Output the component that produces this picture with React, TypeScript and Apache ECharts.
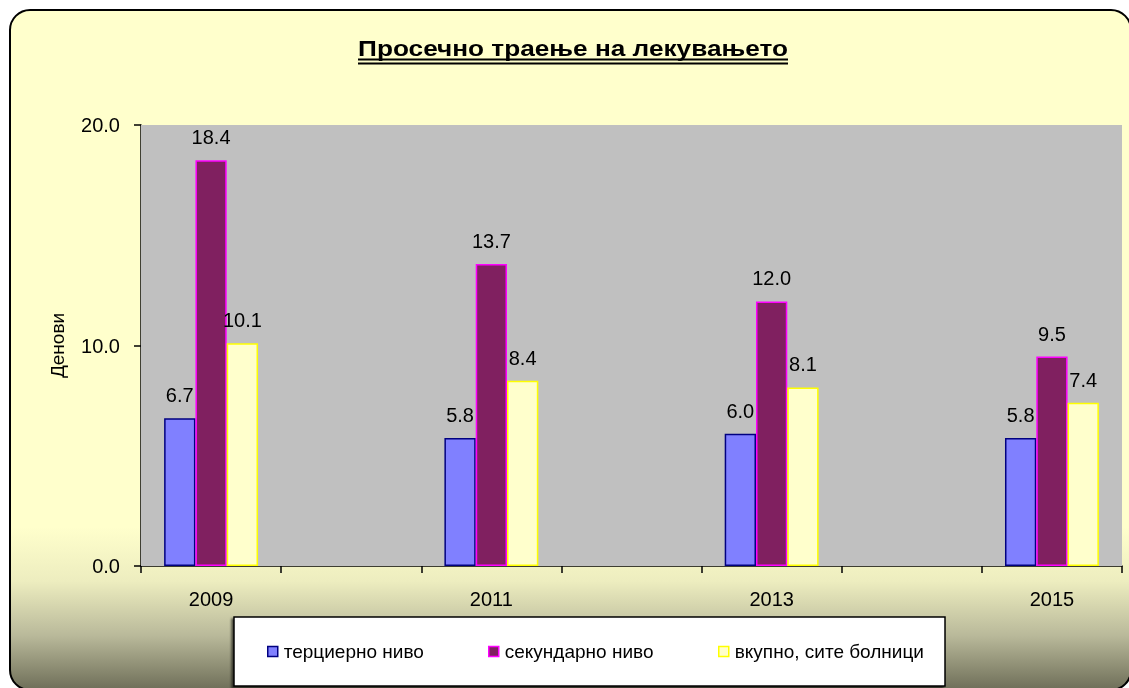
import React, { useEffect, useRef } from "react";
import * as echarts from "echarts";

const categories = ["2009", "2010", "2011", "2012", "2013", "2014", "2015"];
const tertiary = [6.7, null, 5.8, null, 6.0, null, 5.8];
const secondary = [18.4, null, 13.7, null, 12.0, null, 9.5];
const total = [10.1, null, 8.4, null, 8.1, null, 7.4];
const seriesNames = ["терциерно ниво", "секундарно ниво", "вкупно, сите болници"];
const titleText = "Просечно траење на лекувањето";
const yAxisName = "Денови";
const yMin = 0;
const yMax = 20;
const yInterval = 10;

const FONT = '"Liberation Sans", Arial, sans-serif';

const fills = ["#8080FF", "#802060", "#FFFFCC"];
const borders = ["#000080", "#FF00FF", "#FFFF00"];
const legendLefts = [267, 488, 718];

export default function App() {
  const ref = useRef<HTMLDivElement>(null);

  useEffect(() => {
    if (!ref.current) return;
    const chart = echarts.init(ref.current, null, { renderer: "svg" });

    const titleFontSize = 22;
    const canvas = document.createElement("canvas");
    const ctx = canvas.getContext("2d")!;
    ctx.font = `bold ${titleFontSize}px ${FONT}`;
    const tw = ctx.measureText(titleText).width || 360;
    const targetW = 430;
    const tcx = 573;

    const dataSets = [tertiary, secondary, total];

    const series: any[] = dataSets.map((d, i) => ({
      name: seriesNames[i],
      type: "bar",
      data: d,
      barGap: "0%",
      barCategoryGap: "33%",
      itemStyle: { color: fills[i], borderColor: borders[i], borderWidth: 1.5 },
      label: {
        show: true,
        position: "top",
        distance: 13,
        fontSize: 20,
        fontFamily: FONT,
        color: "#000",
        formatter: (p: any) => (p.value == null ? "" : Number(p.value).toFixed(1)),
      },
    }));

    chart.setOption({
      animation: false,
      graphic: [
        {
          type: "rect",
          z: -10,
          shape: { x: 10, y: 10, width: 1121, height: 680, r: 20 },
          style: {
            fill: new echarts.graphic.LinearGradient(0, 0, 0, 1, [
              { offset: 0, color: "#FFFFCC" },
              { offset: 0.76, color: "#FFFFCC" },
              { offset: 0.84, color: "#EDEDBF" },
              { offset: 0.92, color: "#B9B99A" },
              { offset: 1, color: "#6E6E58" },
            ]),
            stroke: "#000",
            lineWidth: 2,
          },
        },
        {
          type: "text",
          z: 10,
          x: tcx,
          y: 48,
          scaleX: targetW / tw,
          style: {
            text: titleText,
            fontSize: titleFontSize,
            fontWeight: "bold",
            fontFamily: FONT,
            fill: "#000",
            align: "center",
            verticalAlign: "middle",
          },
        },
        {
          type: "line",
          z: 10,
          shape: { x1: tcx - targetW / 2, y1: 59.5, x2: tcx + targetW / 2, y2: 59.5 },
          style: { stroke: "#000", lineWidth: 2 },
        },
        {
          type: "line",
          z: 10,
          shape: { x1: tcx - targetW / 2, y1: 63.5, x2: tcx + targetW / 2, y2: 63.5 },
          style: { stroke: "#000", lineWidth: 2 },
        },
        {
          type: "rect",
          z: 5,
          shape: { x: 234, y: 617, width: 711, height: 69 },
          style: {
            fill: "#FFFFFF",
            stroke: "#000",
            lineWidth: 1.5,
            shadowColor: "rgba(0,0,0,0.6)",
            shadowOffsetX: -2,
            shadowOffsetY: 2,
            shadowBlur: 2,
          },
        },
      ],
      legend: seriesNames.map((n, i) => ({
        data: [
          {
            name: n,
            icon: "rect",
            itemStyle: { color: fills[i], borderColor: borders[i], borderWidth: 1.5 },
          },
        ],
        left: legendLefts[i],
        top: 642,
        padding: 0,
        itemWidth: 10,
        itemHeight: 10,
        itemGap: 0,
        z: 20,
        selectedMode: false,
        textStyle: { fontSize: 19, fontFamily: FONT, color: "#000", padding: [0, 0, 0, 1] },
      })),
      grid: {
        left: 141,
        right: 7,
        top: 125,
        bottom: 122,
        show: true,
        backgroundColor: "#C0C0C0",
        borderWidth: 0,
        z: 1,
      },
      xAxis: {
        type: "category",
        data: categories,
        axisLine: { lineStyle: { color: "#000", width: 1.5 } },
        axisTick: { show: true, interval: 0, length: 7, lineStyle: { color: "#000", width: 1.5 } },
        axisLabel: { interval: 1, margin: 23, fontSize: 20, fontFamily: FONT, color: "#000" },
        splitLine: { show: false },
      },
      yAxis: {
        type: "value",
        min: yMin,
        max: yMax,
        interval: yInterval,
        name: yAxisName,
        nameLocation: "middle",
        nameGap: 74,
        nameTextStyle: { fontSize: 19, fontFamily: FONT, color: "#000" },
        axisLine: { show: true, lineStyle: { color: "#000", width: 1.5 } },
        axisTick: { show: true, length: 7, lineStyle: { color: "#000", width: 1.5 } },
        axisLabel: {
          margin: 21,
          fontSize: 20,
          fontFamily: FONT,
          color: "#000",
          formatter: (v: number) => v.toFixed(1),
        },
        splitLine: {
          show: true,
          showMinLine: false,
          showMaxLine: false,
          lineStyle: { color: "#000", width: 1.2 },
        },
      },
      series,
    });

    return () => chart.dispose();
  }, []);

  return (
    <div
      ref={ref}
      style={{ position: "fixed", left: 0, top: 0, width: 1129, height: 688 }}
    />
  );
}
